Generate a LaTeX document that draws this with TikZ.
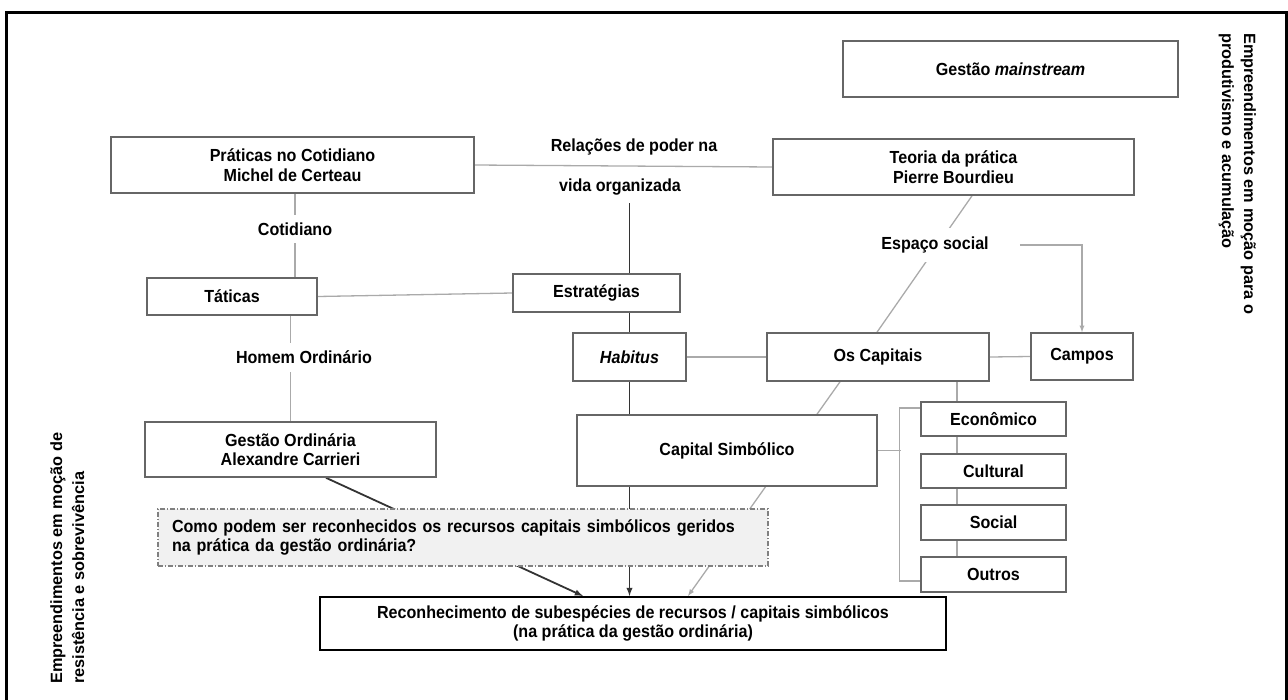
\documentclass[tikz,border=0pt]{standalone}
\usepackage{fontspec}
\setmainfont{Liberation Sans}
\newfontfamily\narrowsans{Liberation Sans}[FakeStretch=0.92]
\usetikzlibrary{backgrounds}
\definecolor{boxline}{HTML}{666666}
\definecolor{lightline}{HTML}{AAAAAA}
\definecolor{darkline}{HTML}{333333}
\definecolor{askfill}{HTML}{F1F1F1}
\newcommand\boxfont{\narrowsans\fontsize{17.5}{19.5}\selectfont\bfseries}
\newcommand\sidefont{\fontsize{16.3}{22}\selectfont\bfseries}
\begin{document}
\begin{tikzpicture}[x=1pt,y=-1pt,
	caixa/.style={draw=boxline, line width=1.6pt, fill=white, align=center, font=\boxfont, inner sep=0pt},
	rotulo/.style={font=\boxfont, inner xsep=4pt, inner ysep=8pt},
	fina/.style={draw=lightline, line width=1.3pt},
	grossa/.style={draw=darkline, line width=1.8pt}]
		\useasboundingbox (0,0) rectangle (1288,699);
		\draw [line width=3pt] (6,705) -- (6,12) -- (1286,12) -- (1286,705);
		\node (mainstream) at (1010.5,69) [caixa, minimum width=335, minimum height=56] {Gestão \textit{mainstream}};
		\node (praticas) at (292.5,165) [caixa, minimum width=363, minimum height=56] {Práticas no Cotidiano\\Michel de Certeau};
		\node (teoria) at (953.5,167) [caixa, minimum width=361, minimum height=56] {Teoria da prática\\Pierre Bourdieu};
		\node (rel1) at (634,147) [rotulo] {Relações de poder na};
		\node (rel2) at (620,187) [rotulo] {vida organizada};
		\node (cotidiano) at (295,229) [rotulo, fill=white] {Cotidiano};
		\node (taticas) at (232,296.5) [caixa, minimum width=170, minimum height=37] {Táticas};
		\node (estrategias) at (596.5,293) [caixa, minimum width=167, minimum height=38] {Estratégias};
		\node (espaco) at (935,245) [rotulo, fill=white, inner ysep=9pt] {Espaço social};
		\node (homem) at (304,357) [rotulo, fill=white] {Homem Ordinário};
		\node (habitus) at (629.5,357) [caixa, minimum width=113, minimum height=48] {\textit{Habitus}};
		\node (capitais) at (878,357) [caixa, minimum width=222, minimum height=48] {Os Capitais};
		\node (campos) at (1082,356.5) [caixa, minimum width=102, minimum height=47] {Campos};
		\node (gestaoord) at (290.5,449.5) [caixa, minimum width=291, minimum height=55] {Gestão Ordinária\\Alexandre Carrieri};
		\node (simbolico) at (727,450.5) [caixa, minimum width=300, minimum height=71] {Capital Simbólico};
		\node (economico) at (993.5,419) [caixa, minimum width=145, minimum height=34] {Econômico};
		\node (cultural) at (993.5,471) [caixa, minimum width=145, minimum height=34] {Cultural};
		\node (social) at (993.5,522.5) [caixa, minimum width=145, minimum height=35] {Social};
		\node (outros) at (993.5,574.5) [caixa, minimum width=145, minimum height=35] {Outros};
		\node (pergunta) at (463,537.5) [caixa, draw=gray, line width=1.2pt, dash pattern=on 5pt off 2pt on 1pt off 2pt, fill=askfill, align=left, text width=582, inner xsep=14pt, minimum height=57] {Como podem ser reconhecidos os recursos capitais simbólicos geridos\\na prática da gestão ordinária?};
		\node (reconhec) at (633,623.5) [caixa, draw=black, line width=2pt, minimum width=626, minimum height=53] {Reconhecimento de subespécies de recursos / capitais simbólicos\\(na prática da gestão ordinária)};
		\node (ladodir) at (1256,33) [rotate=-90, anchor=north west, align=left, inner sep=0pt, font=\sidefont] {Empreendimentos em moção para o\\produtivismo e acumulação};
		\node (ladoesq) at (50,684) [rotate=90, anchor=north west, align=left, inner sep=0pt, font=\sidefont] {Empreendimentos em moção de\\resistência e sobrevivência};
		\begin{scope}[on background layer]
		\draw [fina] (praticas.east) -- (teoria.west);
		\draw [fina] (cotidiano.center |- praticas.south) -- (cotidiano.center |- taticas.north);
		\draw [fina] (taticas.east) -- (estrategias.west);
		\draw [fina] (taticas.south -| gestaoord.north) -- (gestaoord.north);
		\draw [fina] (habitus.east) -- (capitais.west);
		\draw [fina] (capitais.east) -- (campos.west);
		\draw [fina] ([xshift=18.5pt]teoria.south) -- ([xshift=-1pt]capitais.north);
		\draw [fina, -latex] ([xshift=27pt]espaco.east) -| (campos.north);
		\draw [fina, -latex] ([xshift=-38pt]capitais.south) -- ([xshift=55pt]reconhec.north);
		\draw [fina] ([xshift=-36.5pt]economico.north |- capitais.south) -- ([xshift=-36.5pt]outros.north);
		\draw [fina] ([yshift=11pt]economico.west) -- ++(-21pt,0) |- ([yshift=-6.5pt]outros.west);
		\draw [fina] (simbolico.east) -- ++(23pt,0);
		\draw [grossa, -latex] (rel2.south -| habitus) -- (reconhec.north -| habitus);
		\draw [grossa, -latex] ([xshift=35.5pt]gestaoord.south) -- ([xshift=-50pt]reconhec.north);
		\end{scope}
		\end{tikzpicture}
\end{document}
